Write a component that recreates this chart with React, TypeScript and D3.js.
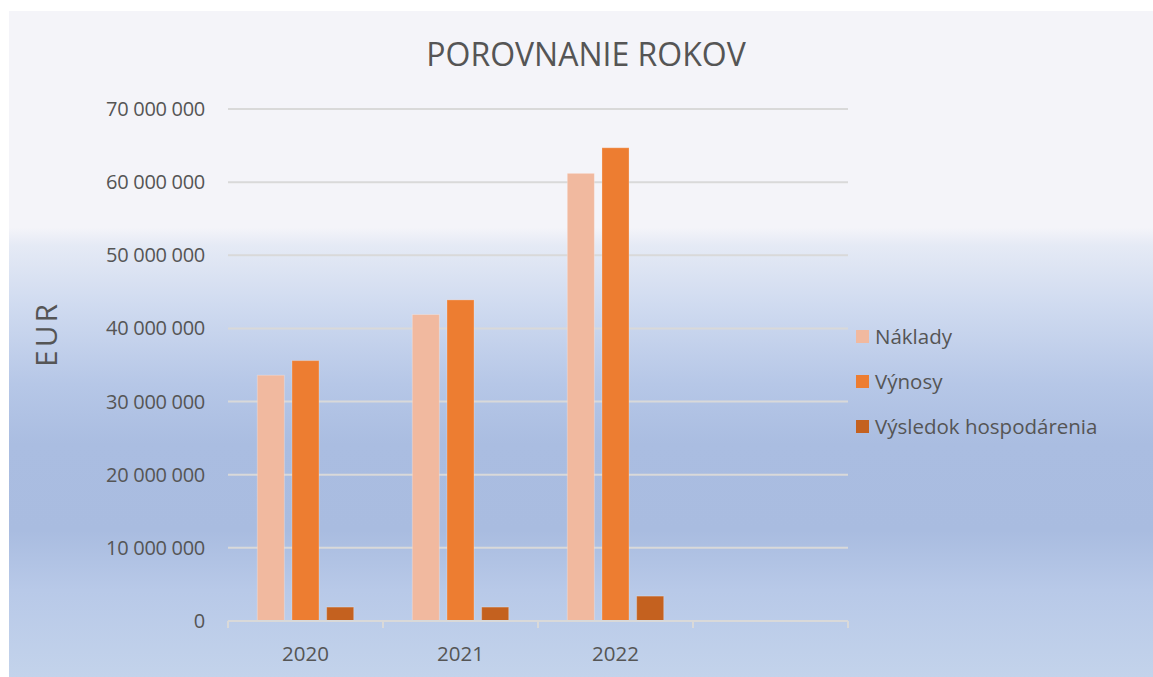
import React from "react";
import * as d3 from "d3";

const categories = ["2020", "2021", "2022", ""];
const seriesNames = ["Náklady", "Výnosy", "Výsledok hospodárenia"];
const naklady = [33600000, 41900000, 61200000, 0];
const vynosy = [35600000, 43900000, 64700000, 0];
const vysledok = [1900000, 1900000, 3400000, 0];
const yTicks = [0, 10000000, 20000000, 30000000, 40000000, 50000000, 60000000, 70000000];
const colors = ["#f1b99f", "#ed7d31", "#c4611f"];

const W = 1153;
const H = 677;
const FONT = "'Open Sans', 'Segoe UI', sans-serif";
const TEXT = "#555555";

export default function App() {
  const series = [naklady, vynosy, vysledok];
  const x0 = d3.scaleBand<string>().domain(categories).range([228, 848]).padding(0);
  const bw = x0.bandwidth();
  const groupW = bw * 0.622;
  const x1 = d3
    .scaleBand<number>()
    .domain([0, 1, 2])
    .range([(bw - groupW) / 2, (bw + groupW) / 2])
    .paddingInner(0.22);
  const y = d3.scaleLinear().domain([0, 70000000]).range([621, 109]);
  const fmt = (v: number) => d3.format(",")(v).replace(/,/g, " ");

  const stops: [number, string][] = [
    [0, "#f4f4f9"],
    [0.325, "#f4f4f9"],
    [0.352, "#e5eaf5"],
    [0.44, "#d0dbf0"],
    [0.56, "#b6c7e7"],
    [0.65, "#aabde1"],
    [0.78, "#a9bce0"],
    [0.87, "#b8c9e8"],
    [1, "#c3d3eb"],
  ];

  return (
    <svg
      width={W}
      height={H}
      style={{ position: "absolute", left: 0, top: 0, display: "block" }}
      fontFamily={FONT}
    >
      <defs>
        <linearGradient id="bg" x1="0" y1="0" x2="0" y2="1">
          {stops.map(([o, c], i) => (
            <stop key={i} offset={o} stopColor={c} />
          ))}
        </linearGradient>
      </defs>
      <rect x={0} y={0} width={W} height={H} fill="#ffffff" />
      <rect x={9} y={11} width={W - 9} height={H - 11} fill="url(#bg)" />

      <text x={586} y={66} textAnchor="middle" fontSize={32} fill={TEXT}>
        POROVNANIE ROKOV
      </text>

      {yTicks.map((t) => (
        <g key={t}>
          {t > 0 && (
            <line x1={228} x2={848} y1={y(t)} y2={y(t)} stroke="#d9d9d9" strokeWidth={2} />
          )}
          <text
            x={205}
            y={y(t)}
            dy="0.35em"
            textAnchor="end"
            fontSize={20}
            letterSpacing={-0.3}
            fill={TEXT}
          >
            {fmt(t)}
          </text>
        </g>
      ))}

      <text
        transform={`translate(57,334) rotate(-90)`}
        textAnchor="middle"
        fontSize={30}
        letterSpacing={3}
        fill={TEXT}
      >
        EUR
      </text>

      {categories.map((c, ci) =>
        series.map((s, si) =>
          s[ci] > 0 ? (
            <rect
              key={`${ci}-${si}`}
              x={(x0(c) as number) + (x1(si) as number)}
              y={y(s[ci])}
              width={x1.bandwidth()}
              height={y(0) - y(s[ci])}
              fill={colors[si]}
              stroke="#ffffff"
              strokeOpacity={0.25}
              strokeWidth={1}
            />
          ) : null
        )
      )}

      <line x1={228} x2={848} y1={y(0)} y2={y(0)} stroke="#d9d9d9" strokeWidth={2} />
      {[...categories.map((c) => x0(c) as number), 848].map((xv, i) => (
        <line key={i} x1={xv} x2={xv} y1={y(0)} y2={y(0) + 7} stroke="#d9d9d9" strokeWidth={2} />
      ))}
      {categories.map((c) => (
        <text
          key={c}
          x={(x0(c) as number) + bw / 2}
          y={654}
          dy="0.35em"
          textAnchor="middle"
          fontSize={20.5}
          fill={TEXT}
        >
          {c}
        </text>
      ))}

      {seriesNames.map((n, i) => (
        <g key={n} transform={`translate(856,${337 + i * 45})`}>
          <rect x={0} y={-7} width={13} height={13} fill={colors[i]} />
          <text x={19} y={0} dy="0.35em" fontSize={20.5} fill={TEXT}>
            {n}
          </text>
        </g>
      ))}
    </svg>
  );
}
